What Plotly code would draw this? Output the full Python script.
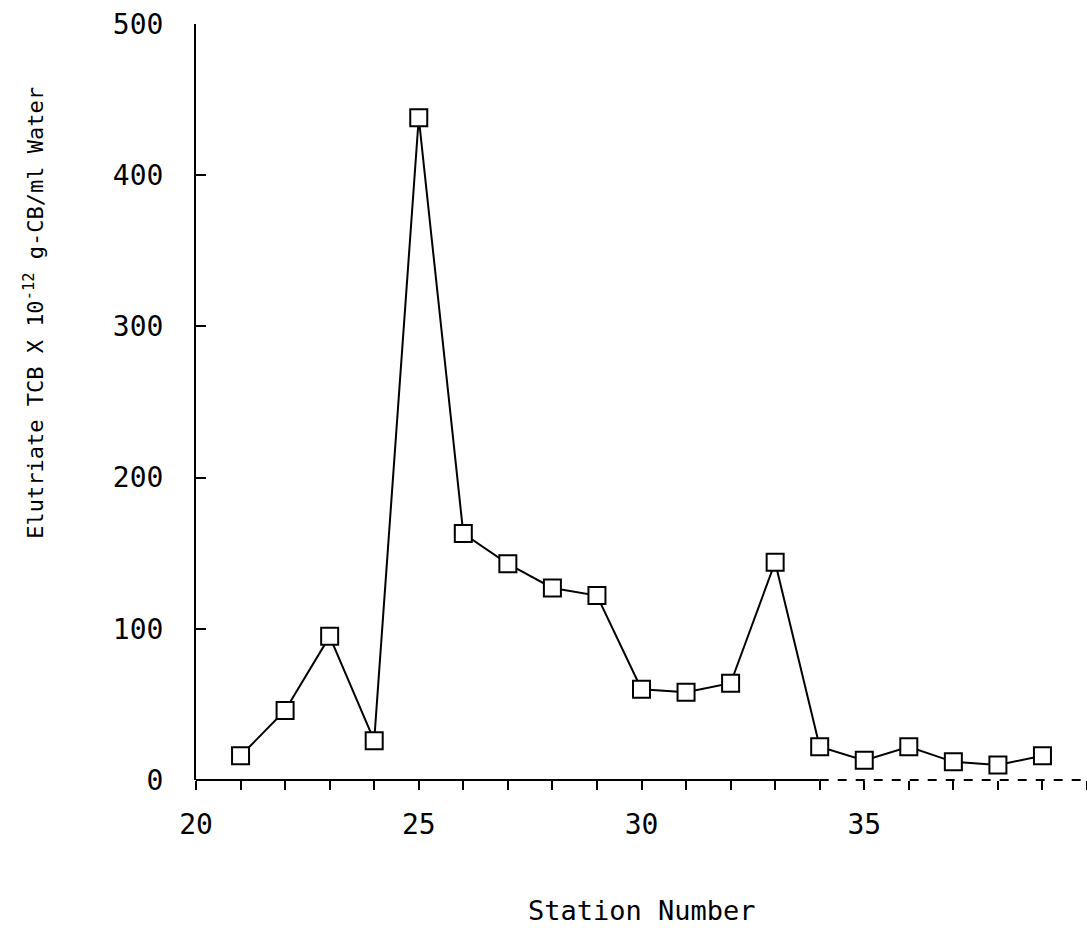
import plotly.graph_objects as go

stations = [21, 22, 23, 24, 25, 26, 27, 28, 29, 30, 31, 32, 33, 34, 35, 36, 37, 38, 39]
tcb = [16, 46, 95, 26, 438, 163, 143, 127, 122, 60, 58, 64, 144, 22, 13, 22, 12, 10, 16]

x_tickvals = [20, 25, 30, 35]
x_ticktext = ["20", "25", "30", "35"]
y_tickvals = [0, 100, 200, 300, 400, 500]
y_ticktext = ["0", "100", "200", "300", "400", "500"]

FONT = "DejaVu Sans Mono"

fig = go.Figure()
fig.add_trace(go.Scatter(
    x=stations, y=tcb, mode="lines+markers",
    line=dict(color="black", width=2),
    marker=dict(symbol="square", size=17, color="white",
                line=dict(color="black", width=2)),
    showlegend=False, cliponaxis=False,
))

fig.update_layout(
    width=1087, height=928,
    margin=dict(l=196, r=0, t=24, b=148),
    paper_bgcolor="white", plot_bgcolor="white",
    font=dict(family=FONT, size=28, color="black"),
    xaxis=dict(range=[20, 40], tickvals=x_tickvals, ticktext=x_ticktext,
               ticks="outside", ticklen=9, tickwidth=2, tickcolor="black",
               minor=dict(tick0=20, dtick=1, ticks="outside", ticklen=9,
                          tickwidth=2, tickcolor="black", showgrid=False),
               showgrid=False, zeroline=False, showline=False,
               ticklabelstandoff=10, tickfont=dict(size=28)),
    yaxis=dict(range=[0, 500], tickvals=y_tickvals, ticktext=y_ticktext,
               ticks="inside", ticklen=10, tickwidth=2, tickcolor="black",
               showgrid=False, zeroline=False, showline=True,
               linecolor="black", linewidth=2,
               ticklabelstandoff=25, tickfont=dict(size=28)),
)

# x axis line: solid then broken, as in the original
fig.add_shape(type="line", xref="x", yref="paper", x0=20, x1=34, y0=0, y1=0,
              line=dict(color="black", width=2))
fig.add_shape(type="line", xref="x", yref="paper", x0=34, x1=40, y0=0, y1=0,
              line=dict(color="black", width=2, dash="dash"))

fig.add_annotation(text="Station Number", xref="paper", yref="paper",
                   x=0.5, y=0, yshift=-130, showarrow=False,
                   font=dict(family=FONT, size=27), yanchor="middle")
fig.add_annotation(text="Elutriate TCB X 10<sup>-12</sup> g-CB/ml Water",
                   xref="paper", yref="paper", x=0, xshift=-162, y=0.618,
                   textangle=-90, showarrow=False,
                   font=dict(family=FONT, size=22), xanchor="center", yanchor="middle")

fig.write_html("out.html")
